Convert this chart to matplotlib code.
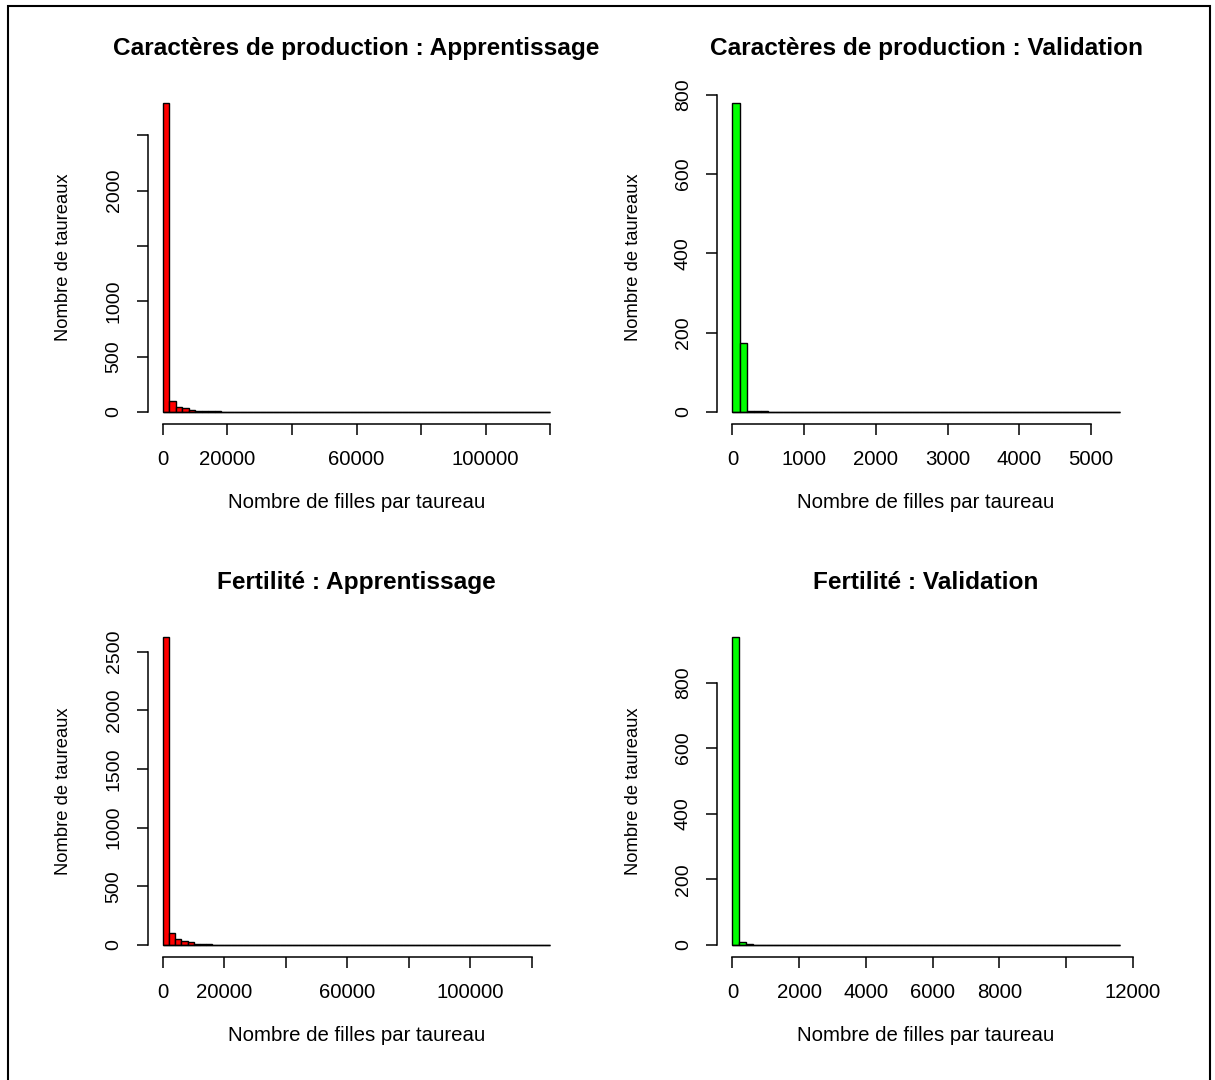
import numpy as np
import matplotlib
matplotlib.use('Agg')
import matplotlib.pyplot as plt
from matplotlib.patches import Rectangle

plt.rcParams['font.family'] = ['Liberation Sans', 'DejaVu Sans']

# effectifs par classe (nombre de taureaux), classes de largeur fixe a partir de 0
prod_app_width = 2000
prod_app_counts = [2790, 102, 48, 33, 20, 12, 9, 7, 5, 4, 3, 3, 2, 3, 2, 1, 2, 2, 1, 1,
                   1, 0, 1, 1, 1, 0, 1, 0, 1, 2, 1, 0, 0, 1, 0, 1, 0, 0, 0, 0,
                   0, 1, 0, 0, 0, 0, 0, 1, 0, 0, 0, 0, 0, 0, 0, 0, 0, 0, 0, 0]
prod_val_width = 100
prod_val_counts = [778, 174, 3, 2, 2, 1, 1, 0, 0, 1, 0, 1, 0, 0, 0, 0, 0, 0, 0, 0,
                   0, 0, 0, 0, 0, 0, 0, 0, 0, 0, 0, 0, 1, 0, 0, 0, 0, 0, 0, 0,
                   0, 0, 0, 0, 0, 0, 0, 0, 0, 0, 0, 0, 0, 1]
fert_app_width = 2000
fert_app_counts = [2621, 105, 48, 34, 27, 10, 8, 6, 4, 3, 3, 2, 2, 2, 1, 2, 1, 1, 1, 1,
                   0, 1, 1, 0, 1, 0, 0, 1, 0, 1, 0, 1, 0, 0, 1, 0, 0, 0, 1, 0,
                   0, 0, 0, 0, 1, 0, 0, 0, 0, 0, 0, 0, 0, 0, 0, 0, 0, 0, 0, 0,
                   0, 0, 1]
fert_val_width = 200
fert_val_counts = [938, 10, 3, 1, 1, 0, 0, 1, 0, 0, 1, 0, 0, 0, 0, 1, 0, 0, 0, 0,
                   0, 0, 0, 0, 0, 0, 0, 0, 0, 0, 0, 0, 0, 0, 0, 0, 1, 0, 0, 0,
                   0, 0, 0, 0, 0, 0, 0, 0, 0, 0, 0, 0, 0, 0, 0, 0, 0, 1]

titles = ['Caractères de production : Apprentissage', 'Caractères de production : Validation',
          'Fertilité : Apprentissage', 'Fertilité : Validation']
xlabel = 'Nombre de filles par taureau'
ylabel = 'Nombre de taureaux'

# graduations ; '' = graduation sans libelle
prod_app_xticks = [0, 20000, 40000, 60000, 80000, 100000, 120000]
prod_app_xlabels = ['0', '20000', '', '60000', '', '100000', '']
prod_app_yticks = [0, 500, 1000, 1500, 2000, 2500]
prod_app_ylabels = ['0', '500', '1000', '', '2000', '']
prod_val_xticks = [0, 1000, 2000, 3000, 4000, 5000]
prod_val_xlabels = ['0', '1000', '2000', '3000', '4000', '5000']
prod_val_yticks = [0, 200, 400, 600, 800]
prod_val_ylabels = ['0', '200', '400', '600', '800']
fert_app_xticks = [0, 20000, 40000, 60000, 80000, 100000, 120000]
fert_app_xlabels = ['0', '20000', '', '60000', '', '100000', '']
fert_app_yticks = [0, 500, 1000, 1500, 2000, 2500]
fert_app_ylabels = ['0', '500', '1000', '1500', '2000', '2500']
fert_val_xticks = [0, 2000, 4000, 6000, 8000, 10000, 12000]
fert_val_xlabels = ['0', '2000', '4000', '6000', '8000', '', '12000']
fert_val_yticks = [0, 200, 400, 600, 800]
fert_val_ylabels = ['0', '200', '400', '600', '800']

panels = [
    (prod_app_counts, prod_app_width, '#ff0000', prod_app_xticks, prod_app_xlabels, prod_app_yticks, prod_app_ylabels),
    (prod_val_counts, prod_val_width, '#00ff00', prod_val_xticks, prod_val_xlabels, prod_val_yticks, prod_val_ylabels),
    (fert_app_counts, fert_app_width, '#ff0000', fert_app_xticks, fert_app_xlabels, fert_app_yticks, fert_app_ylabels),
    (fert_val_counts, fert_val_width, '#00ff00', fert_val_xticks, fert_val_xlabels, fert_val_yticks, fert_val_ylabels),
]

W, H = 1215, 1080
fig = plt.figure(figsize=(W / 100, H / 100), dpi=100)

# regions de trace en pixels (gauche, haut, droite, bas)
regions = [(147.5, 91, 565.5, 424.3), (717, 91, 1135, 424.3),
           (147.5, 625, 565.5, 957.3), (717, 625, 1135, 957.3)]

for (counts, width, color, xt, xl, yt, yl), title, (x0, y0, x1, y1) in zip(panels, titles, regions):
    ax = fig.add_axes([x0 / W, 1 - y1 / H, (x1 - x0) / W, (y1 - y0) / H])
    counts = np.array(counts)
    edges = np.arange(len(counts) + 1) * width
    ax.bar(edges[:-1], counts, width=width, align='edge', color=color,
           edgecolor='black', linewidth=1.0)
    ax.hlines(0, edges[0], edges[-1], color='black', linewidth=1.0)

    # marges de 4 % comme en R
    dx = 0.04 * (edges[-1] - edges[0])
    dy = 0.04 * counts.max()
    ax.set_xlim(edges[0] - dx, edges[-1] + dx)
    ax.set_ylim(-dy, counts.max() + dy)

    for s in ['top', 'right']:
        ax.spines[s].set_visible(False)
    ax.spines['bottom'].set_bounds(xt[0], xt[-1])
    ax.spines['left'].set_bounds(yt[0], yt[-1])
    for s in ['bottom', 'left']:
        ax.spines[s].set_linewidth(1.1)

    ax.set_xticks(xt)
    ax.set_xticklabels(xl)
    ax.set_yticks(yt)
    ax.set_yticklabels(yl)
    ax.tick_params(axis='x', length=8, width=1.1, pad=10.5, labelsize=14.7)
    ax.tick_params(axis='y', length=8, width=1.1, pad=10, labelsize=14, labelrotation=90)
    for t in ax.get_yticklabels():
        t.set_va('center')

    ax.set_title(title, fontsize=17.6, fontweight='bold', pad=26)
    ax.set_xlabel(xlabel, fontsize=14.7)
    ax.xaxis.set_label_coords(0.5, -0.207)
    ax.set_ylabel(ylabel, fontsize=13.2)
    ax.yaxis.set_label_coords(-0.18, 0.5)

# cadre autour de la figure
fig.add_artist(Rectangle((8 / W, -0.01), 1202 / W, 1.01 - 6 / H, transform=fig.transFigure,
                         fill=False, edgecolor='black', linewidth=1.5))

fig.savefig('out.png', dpi=100, facecolor='white')
